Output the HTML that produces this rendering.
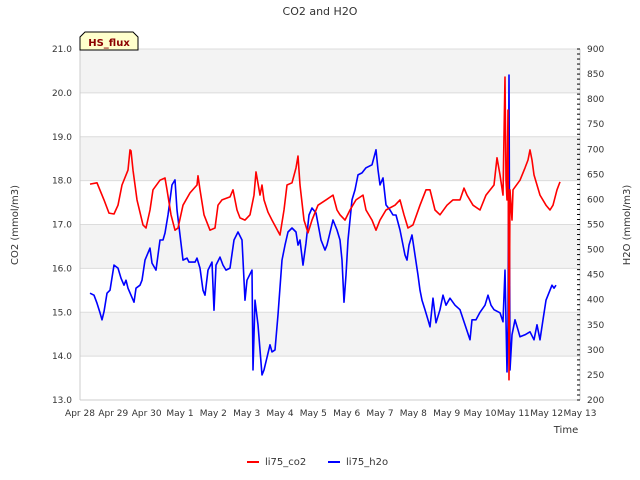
<!DOCTYPE html>
<html><head><meta charset="utf-8"><style>
body{margin:0;background:#fff;}
svg{display:block;font-family:"DejaVu Sans","Liberation Sans",sans-serif;}
</style></head><body>
<svg id="chart" width="640" height="480" viewBox="0 0 640 480" xmlns="http://www.w3.org/2000/svg">
<text x="320" y="15" text-anchor="middle" font-size="11" fill="#333">CO2 and H2O</text>
<g id="bands"></g>
<g id="grid"></g>
<g id="series"></g>
<g id="axes"></g>
<text transform="translate(18,225) rotate(-90)" text-anchor="middle" font-size="10" fill="#333">CO2 (mmol/m3)</text>
<text transform="translate(630,225) rotate(-90)" text-anchor="middle" font-size="10" fill="#333">H2O (mmol/m3)</text>
<text x="566" y="433" text-anchor="middle" font-size="10" fill="#333">Time</text>
<g>
<path d="M80,50 L80,37 L85,32 L133,32 L138,37 L138,50 Z" fill="#ffffcc" stroke="#000" stroke-width="1"/>
<text x="109" y="46" text-anchor="middle" font-size="10" font-weight="bold" fill="#8b0000">HS_flux</text>
</g>
<g>
<g><line x1="247" y1="462" x2="259" y2="462" stroke="#f00" stroke-width="2"/><text x="265" y="465" font-size="10" fill="#333">li75_co2</text></g>
<g><line x1="328" y1="462" x2="340" y2="462" stroke="#00f" stroke-width="2"/><text x="346" y="465" font-size="10" fill="#333">li75_h2o</text></g>
</g>
</svg>
<script>
const xTickLabels=["Apr 28","Apr 29","Apr 30","May 1","May 2","May 3","May 4","May 5","May 6","May 7","May 8","May 9","May 10","May 11","May 12","May 13"];
const leftTicks=[13,14,15,16,17,18,19,20,21];
const rightTicks=[200,250,300,350,400,450,500,550,600,650,700,750,800,850,900];
const co2Days=[0.30,0.51,0.72,0.87,1.02,1.14,1.26,1.44,1.50,1.53,1.59,1.71,1.89,1.98,2.10,2.19,2.40,2.55,2.61,2.73,2.85,2.94,3.09,3.30,3.51,3.54,3.60,3.72,3.90,4.05,4.14,4.26,4.50,4.59,4.71,4.80,4.95,5.10,5.22,5.28,5.40,5.46,5.52,5.64,5.76,6.00,6.12,6.21,6.36,6.48,6.54,6.60,6.72,6.84,6.96,7.14,7.38,7.59,7.71,7.80,7.95,8.10,8.28,8.49,8.58,8.76,8.88,9.00,9.18,9.45,9.60,9.72,9.84,9.99,10.20,10.38,10.50,10.65,10.80,11.01,11.19,11.40,11.52,11.61,11.79,12.00,12.18,12.42,12.51,12.60,12.69,12.75,12.78,12.81,12.84,12.87,12.90,12.96,12.99,13.20,13.35,13.44,13.50,13.56,13.62,13.80,13.98,14.10,14.19,14.31,14.40];
const co2Values=[17.92,17.95,17.56,17.26,17.24,17.44,17.90,18.24,18.70,18.68,18.24,17.56,16.99,16.92,17.33,17.79,18.01,18.06,17.79,17.22,16.87,16.92,17.44,17.72,17.90,18.11,17.79,17.22,16.87,16.92,17.44,17.56,17.63,17.79,17.33,17.15,17.10,17.22,17.67,18.20,17.67,17.90,17.56,17.28,17.10,16.76,17.33,17.90,17.95,18.29,18.56,17.90,17.10,16.81,17.10,17.44,17.56,17.67,17.33,17.22,17.10,17.33,17.56,17.67,17.33,17.10,16.87,17.10,17.33,17.44,17.56,17.22,16.92,16.99,17.44,17.79,17.79,17.33,17.22,17.44,17.56,17.56,17.83,17.67,17.44,17.33,17.67,17.90,18.52,18.13,17.67,20.36,18.01,17.56,19.61,13.46,17.79,17.10,17.79,18.01,18.29,18.47,18.70,18.47,18.13,17.67,17.44,17.33,17.44,17.79,17.97];
const h2oDays=[0.30,0.42,0.51,0.60,0.66,0.72,0.81,0.90,1.02,1.14,1.23,1.32,1.38,1.44,1.53,1.62,1.68,1.80,1.86,1.95,2.10,2.16,2.28,2.40,2.49,2.55,2.64,2.76,2.85,2.91,3.00,3.09,3.21,3.27,3.45,3.51,3.60,3.69,3.75,3.84,3.96,4.02,4.08,4.20,4.29,4.38,4.50,4.62,4.74,4.86,4.95,5.01,5.16,5.19,5.25,5.34,5.46,5.52,5.70,5.76,5.85,5.94,6.06,6.15,6.24,6.36,6.48,6.54,6.60,6.69,6.78,6.87,6.96,7.08,7.23,7.35,7.41,7.59,7.71,7.80,7.86,7.92,7.98,8.04,8.10,8.16,8.25,8.34,8.46,8.58,8.76,8.88,8.94,9.00,9.09,9.18,9.30,9.39,9.48,9.60,9.66,9.75,9.81,9.87,9.96,10.05,10.14,10.20,10.26,10.35,10.44,10.50,10.59,10.68,10.80,10.89,10.98,11.10,11.25,11.40,11.55,11.70,11.76,11.88,12.00,12.15,12.24,12.33,12.42,12.60,12.69,12.75,12.81,12.84,12.87,12.90,12.96,13.05,13.14,13.20,13.35,13.50,13.62,13.71,13.80,13.89,13.98,14.10,14.16,14.22,14.28];
const h2oValues=[413,409,393,374,360,376,413,419,469,463,443,429,439,423,409,395,423,429,439,479,503,473,459,519,519,533,569,629,639,579,529,479,483,475,475,483,463,419,409,459,475,379,469,485,469,459,463,519,535,519,399,439,459,260,399,350,250,260,310,296,300,370,479,509,535,543,535,509,519,469,513,569,583,573,519,499,509,559,539,519,479,395,449,519,559,599,619,649,653,663,669,699,659,629,643,589,579,569,569,539,519,489,479,509,529,489,449,419,399,380,360,346,403,354,380,409,389,403,389,380,350,320,360,360,375,389,409,389,380,374,356,459,256,350,848,260,330,360,340,326,330,336,320,350,320,360,399,419,429,423,429];

const NS="http://www.w3.org/2000/svg";
const X0=80,X1=580,Y0=49,Y1=400;
const xScale=d=>X0+(X1-X0)*d/15;
const yL=v=>Y1-(Y1-Y0)*(v-13)/8;
const yR=v=>Y1-(Y1-Y0)*(v-200)/700;
function mk(tag,attrs,parent){const e=document.createElementNS(NS,tag);for(const k in attrs)e.setAttribute(k,attrs[k]);parent.appendChild(e);return e;}
const bands=document.getElementById('bands'),grid=document.getElementById('grid'),axes=document.getElementById('axes'),series=document.getElementById('series');
mk('rect',{x:X0,y:Y0,width:X1-X0,height:Y1-Y0,fill:'#fff'},bands);
for(let i=0;i<leftTicks.length-1;i++){
  const v=leftTicks[i];
  const grey=(v===20||v===18||v===16||v===14);
  if(grey){const r=mk('rect',{x:X0,y:yL(v+1),width:X1-X0,height:yL(v)-yL(v+1),fill:'#f3f3f3'},bands);
  
  }
}
leftTicks.forEach(v=>{
  const l=mk('line',{x1:X0,x2:X1,y1:yL(v),y2:yL(v),stroke:'#dcdcdc','stroke-width':1},grid);
  
  
  const t=mk('text',{x:X0-8,y:yL(v)+3,'text-anchor':'end','font-size':9,fill:'#333'},axes);
  
  
  t.textContent=v.toFixed(1);
});
mk('line',{x1:X0,x2:X0,y1:Y0,y2:Y1,stroke:'#ccc'},axes);
mk('line',{x1:X0,x2:X1,y1:Y1,y2:Y1,stroke:'#ccc'},axes);
mk('line',{x1:X1,x2:X1,y1:Y0,y2:Y1,stroke:'#ccc'},axes);
for(let v=200;v<=900;v+=10){mk('line',{x1:X1-3,x2:X1,y1:yR(v),y2:yR(v),stroke:'#000','stroke-width':1},axes);}
rightTicks.forEach(v=>{
  const t=mk('text',{x:X1+7,y:yR(v)+3,'font-size':9,fill:'#333'},axes);
  
  
  t.textContent=v;
});
xTickLabels.forEach((s,i)=>{
  const t=mk('text',{x:xScale(i),y:Y1+16,'text-anchor':'middle','font-size':9,fill:'#333'},axes);
  
  
  t.textContent=s;
});
const h=mk('polyline',{points:h2oDays.map((d,i)=>xScale(d).toFixed(1)+','+yR(h2oValues[i]).toFixed(1)).join(' '),fill:'none',stroke:'#00f','stroke-width':1.6,'stroke-linejoin':'round'},series);


const c=mk('polyline',{points:co2Days.map((d,i)=>xScale(d).toFixed(1)+','+yL(co2Values[i]).toFixed(1)).join(' '),fill:'none',stroke:'#f00','stroke-width':1.6,'stroke-linejoin':'round'},series);


</script>
</body></html>
